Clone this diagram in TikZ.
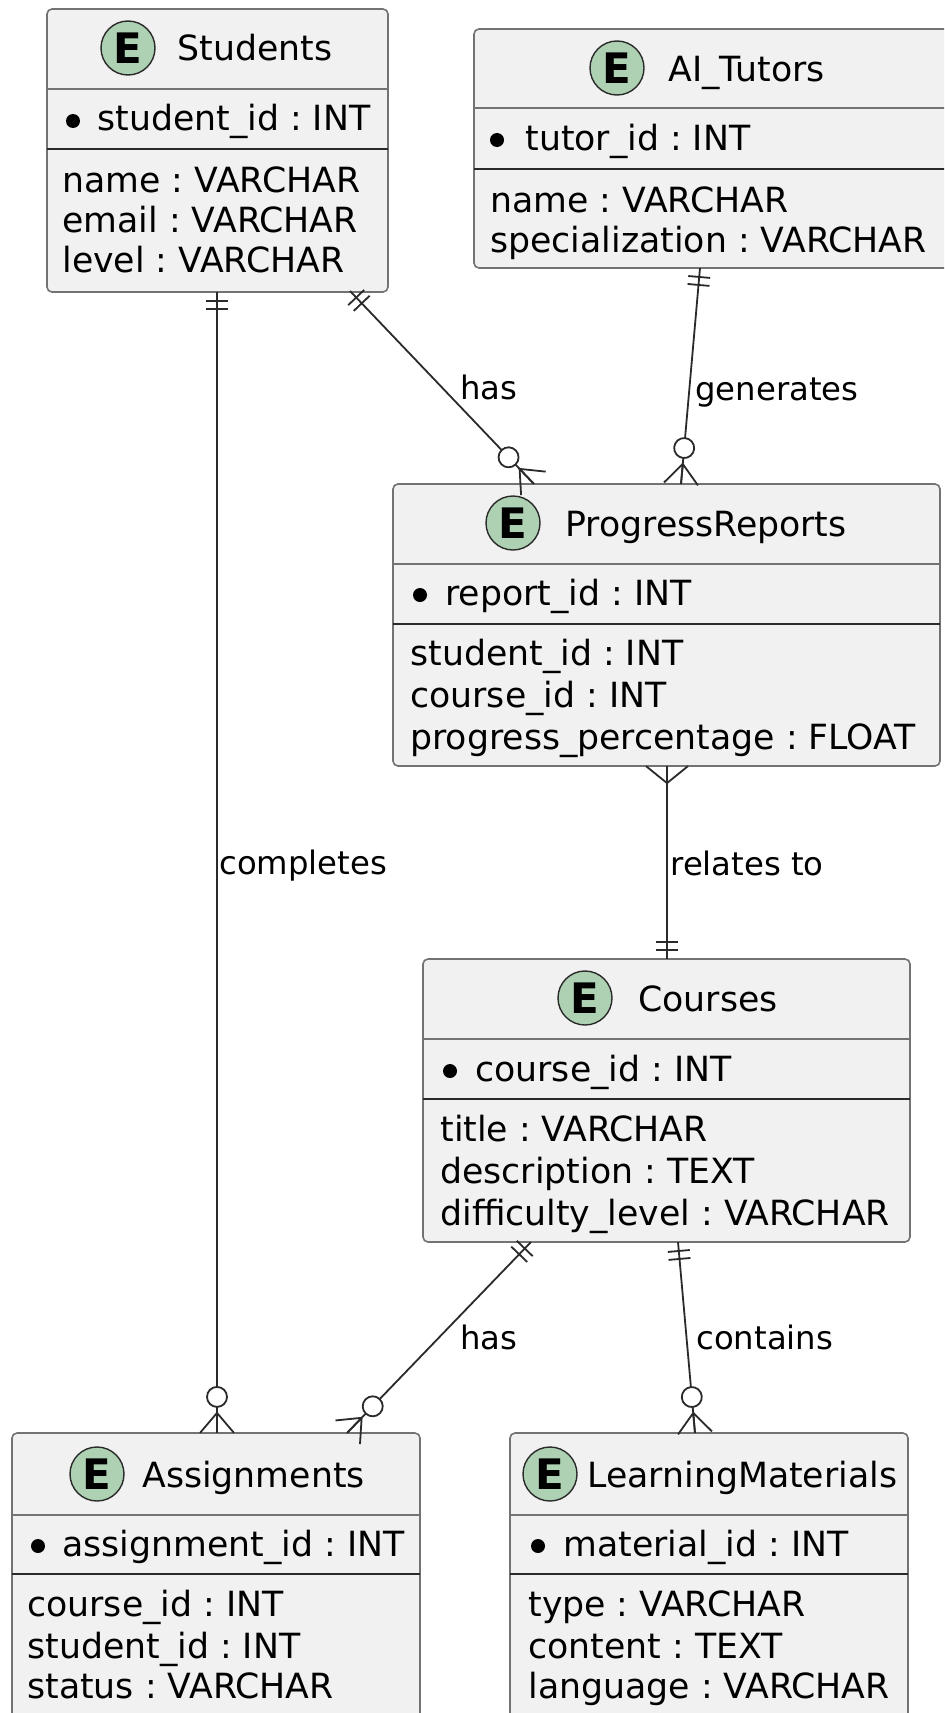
\documentclass[tikz,border=0pt]{standalone}
\usepackage{fontspec}
\setmainfont{DejaVu Sans}
\usetikzlibrary{decorations.markings}
\definecolor{boxfill}{HTML}{F1F1F1}
\definecolor{bc}{HTML}{737373}
\definecolor{lc}{HTML}{2A2A2A}
\definecolor{egreen}{HTML}{ADD1B2}
\newcommand\attrfont{\fontsize{17.35}{20}\selectfont\frenchspacing}
\newcommand\lblfont{\fontsize{16.15}{19}\selectfont\frenchspacing}
\tikzset{
  ebox/.style={draw=bc, fill=boxfill, line width=0.8pt, rounded corners=2.5pt, inner sep=0pt, outer sep=0pt},
  sepone/.style={draw=bc, line width=0.8pt},
  septwo/.style={draw=lc, line width=1pt},
  ecirc/.style={circle, draw=lc, fill=egreen, line width=0.7pt, minimum size=27pt, inner sep=0pt, font=\fontsize{21}{21}\selectfont\bfseries},
  txt/.style={anchor=base west, inner sep=0pt, font=\attrfont},
  keydot/.style={circle, fill=black, minimum size=7pt, inner sep=0pt},
  lbl/.style={anchor=base west, inner sep=0pt, font=\lblfont},
  rel/.style={draw=lc, line width=0.9pt},
  oneone start/.style={postaction={decorate, decoration={markings,
      mark=at position 4.5pt with {\draw[rel] (0pt,-5.5pt) -- (0pt,5.5pt);},
      mark=at position 8.5pt with {\draw[rel] (0pt,-5.5pt) -- (0pt,5.5pt);}}}},
  oneone end/.style={postaction={decorate, decoration={markings,
      mark=at position -4.5pt with {\draw[rel] (0pt,-5.5pt) -- (0pt,5.5pt);},
      mark=at position -8.5pt with {\draw[rel] (0pt,-5.5pt) -- (0pt,5.5pt);}}}},
  zeromany end/.style={postaction={decorate, decoration={markings,
      mark=at position -0.05pt with {\draw[rel] (-10pt,0pt) -- (0pt,8.5pt) (-10pt,0pt) -- (0pt,0pt) (-10pt,0pt) -- (0pt,-8.5pt);
        \draw[rel, fill=white] (-18pt,0pt) circle[radius=5pt];}}}},
  many start/.style={postaction={decorate, decoration={markings,
      mark=at position 0.05pt with {\draw[rel] (8.5pt,0pt) -- (0pt,10.5pt) (8.5pt,0pt) -- (0pt,0pt) (8.5pt,0pt) -- (0pt,-10.5pt);}}}}
}
\begin{document}
\begin{tikzpicture}[x=0.5pt,y=-0.5pt]
\useasboundingbox (0,0) rectangle (944,1713);
\clip (0,0) rectangle (944,1713);
\fill[white] (0,0) rectangle (944,1713);

% ---------- Students ----------
\node[ebox, minimum width=170.5pt, minimum height=141.5pt] (stu) at (217.5,150.5) {};
\draw[sepone] (47,89) -- (388,89);
\draw[septwo] (47,149) -- (388,149);
\node[ecirc] (stu-e) at (128,48) {E};
\node[txt] (stu-t) at (177,61) {Students};
\node[keydot] (stu-d) at (73,121) {};
\node[txt] (stu-k) at (97,130) {student\_id : INT};
\node[txt] (stu-a1) at (62,192) {name : VARCHAR};
\node[txt] (stu-a2) at (62,232) {email : VARCHAR};
\node[txt] (stu-a3) at (62,272) {level : VARCHAR};

% ---------- AI_Tutors ----------
\node[ebox, minimum width=243pt, minimum height=119.5pt] (tut) at (717,148.5) {};
\draw[sepone] (474,108) -- (960,108);
\draw[septwo] (474,169) -- (960,169);
\node[ecirc] (tut-e) at (617,68) {E};
\node[txt] (tut-t) at (668,81) {AI\_Tutors};
\node[keydot] (tut-d) at (497,140) {};
\node[txt] (tut-k) at (525,150) {tutor\_id : INT};
\node[txt] (tut-a1) at (490,212) {name : VARCHAR};
\node[txt] (tut-a2) at (490,252) {specialization : VARCHAR};

% ---------- ProgressReports ----------
\node[ebox, minimum width=273.5pt, minimum height=141pt] (pr) at (666.5,625) {};
\draw[sepone] (393,564) -- (940,564);
\draw[septwo] (393,624) -- (940,624);

% ---------- Courses ----------
\node[ebox, minimum width=243.5pt, minimum height=141.5pt] (crs) at (666.5,1100.5) {};
\draw[sepone] (423,1039) -- (910,1039);
\draw[septwo] (423,1099) -- (910,1099);

% ---------- Assignments ----------
\node[ebox, minimum width=204pt, minimum height=163.5pt] (asg) at (216,1596.5) {};
\draw[sepone] (12,1515) -- (420,1515);
\draw[septwo] (12,1574) -- (420,1574);

% ---------- LearningMaterials ----------
\node[ebox, minimum width=199pt, minimum height=163.5pt] (lm) at (709,1596.5) {};
\draw[sepone] (510,1515) -- (908,1515);
\draw[septwo] (510,1574) -- (908,1574);

% ---------- connectors ----------
\coordinate (c1a) at (350,291);  \coordinate (c1b) at (534,484);
\coordinate (c2a) at (700,268);  \coordinate (c2b) at (681,484);
\coordinate (c3a) at (217,292);  \coordinate (c3b) at (217,1433);
\coordinate (c4a) at (667,766);  \coordinate (c4b) at (667,959);
\coordinate (c5a) at (531,1242); \coordinate (c5b) at (347,1433);
\coordinate (c6a) at (678,1242); \coordinate (c6b) at (695,1433);
\draw[rel, oneone start, zeromany end] (c1a) -- (c1b);
\draw[rel, oneone start, zeromany end] (c2a) -- (c2b);
\draw[rel, oneone start, zeromany end] (c3a) -- (c3b);
\draw[rel, many start, oneone end] (c4a) -- (c4b);
\draw[rel, oneone start, zeromany end] (c5a) -- (c5b);
\draw[rel, oneone start, zeromany end] (c6a) -- (c6b);

\node[lbl] (l1) at (460,399) {has};
\node[lbl] (l2) at (695,400) {generates};
\node[lbl] (l3) at (219,874) {completes};
\node[lbl] (l4) at (670,875) {relates to};
\node[lbl] (l5) at (460,1349) {has};
\node[lbl] (l6) at (696,1349) {contains};

% ---------- entity contents drawn over connectors ----------
\node[ecirc] (pr-e) at (513,523) {E};
\node[txt] (pr-t) at (565,536) {ProgressReports};
\node[keydot] (pr-d) at (420,595) {};
\node[txt] (pr-k) at (445,605) {report\_id : INT};
\node[txt] (pr-a1) at (410,665) {student\_id : INT};
\node[txt] (pr-a2) at (410,707) {course\_id : INT};
\node[txt] (pr-a3) at (410,749) {progress\_percentage : FLOAT};

\node[ecirc] (crs-e) at (585,998) {E};
\node[txt] (crs-t) at (638,1011) {Courses};
\node[keydot] (crs-d) at (450,1071) {};
\node[txt] (crs-k) at (475,1081) {course\_id : INT};
\node[txt] (crs-a1) at (440,1141) {title : VARCHAR};
\node[txt] (crs-a2) at (440,1183) {description : TEXT};
\node[txt] (crs-a3) at (440,1225) {difficulty\_level : VARCHAR};

\node[ecirc] (asg-e) at (97,1474) {E};
\node[txt] (asg-t) at (142,1487) {Assignments};
\node[keydot] (asg-d) at (38,1546) {};
\node[txt] (asg-k) at (62,1556) {assignment\_id : INT};
\node[txt] (asg-a1) at (27,1616) {course\_id : INT};
\node[txt] (asg-a2) at (27,1658) {student\_id : INT};
\node[txt] (asg-a3) at (27,1698) {status : VARCHAR};

\node[ecirc] (lm-e) at (550,1474) {E};
\node[txt] (lm-t) at (587,1487) {LearningMaterials};
\node[keydot] (lm-d) at (538,1546) {};
\node[txt] (lm-k) at (563,1556) {material\_id : INT};
\node[txt] (lm-a1) at (528,1616) {type : VARCHAR};
\node[txt] (lm-a2) at (528,1658) {content : TEXT};
\node[txt] (lm-a3) at (528,1698) {language : VARCHAR};
\end{tikzpicture}
\end{document}
